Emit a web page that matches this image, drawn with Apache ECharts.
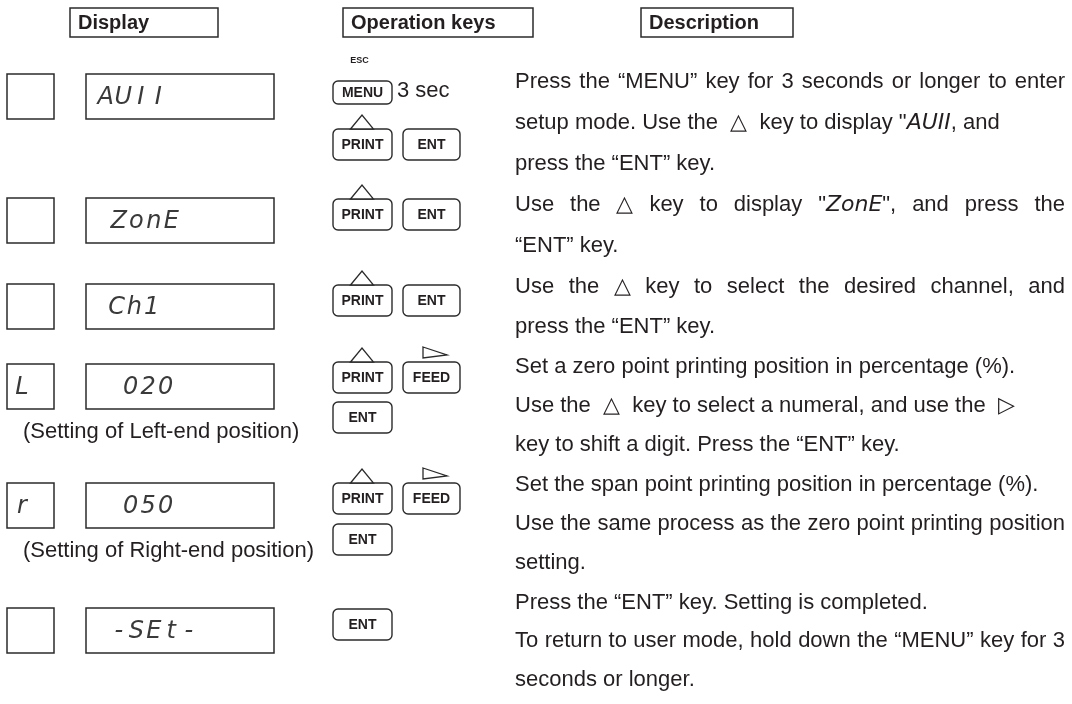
<!DOCTYPE html>
<html><head><meta charset="utf-8">
<script src="https://cdn.jsdelivr.net/npm/echarts@6/dist/echarts.min.js"></script>
<style>html,body{margin:0;padding:0;background:#fff}#main{width:1072px;height:704px}</style>
</head><body><div id="main"></div>
<script>
// ---------- content ----------
const headers = ['Display', 'Operation keys', 'Description'];
const subDisplays = ['', '', '', 'L', 'r', ''];
const mainDisplays = ['AUII', 'ZonE', 'Ch1', '020', '050', '-SEt-'];
const captions = ['', '', '', '(Setting of Left-end position)', '(Setting of Right-end position)', ''];
const keyRows = [
  [['MENU'], ['PRINT', 'ENT']],
  [['PRINT', 'ENT']],
  [['PRINT', 'ENT']],
  [['PRINT', 'FEED'], ['ENT']],
  [['PRINT', 'FEED'], ['ENT']],
  [['ENT']]
];
const holdLabels = ['3 sec', '', '', '', '', ''];
const escLabel = 'ESC';
const descLines = [
  'Press the “MENU” key for 3 seconds or longer to enter',
  'setup mode. Use the  △  key to display "{seg|AUII}, and',
  'press the “ENT” key.',
  'Use the △ key to display "{seg|ZonE}", and press the',
  '“ENT” key.',
  'Use the △ key to select the desired channel, and',
  'press the “ENT” key.',
  'Set a zero point printing position in percentage (%).',
  'Use the  △  key to select a numeral, and use the  ▷',
  'key to shift a digit. Press the “ENT” key.',
  'Set the span point printing position in percentage (%).',
  'Use the same process as the zero point printing position',
  'setting.',
  'Press the “ENT” key. Setting is completed.',
  'To return to user mode, hold down the “MENU” key for 3',
  'seconds or longer.'
];
const justified = [true, false, false, true, false, true, false, false, false, false, false, true, false, false, true, false];

// ---------- layout ----------
const INK = '#231f20';
const FONT = '"Liberation Sans", Arial, sans-serif';
const SEGFONT = '"DejaVu Sans", sans-serif';
const headerBoxes = [{ x: 70, w: 148 }, { x: 343, w: 190 }, { x: 641, w: 152 }];
const headerY = 8, headerH = 29;
const rowTops = [74, 198, 284, 364, 483, 608];
const boxH = 45;
const smallBox = { x: 7, w: 47, cx: 22 };
const bigBox = { x: 86, w: 188 };
const segStart = [97, 110, 108, 122, 122, 110];
const segPitch = 17.5;
const keyLineTops = [[81, 129], [199], [285], [362, 402], [483, 524], [609]];
const keyCols = [{ x: 333, w: 59 }, { x: 403, w: 57 }];
const descX0 = 515, descX1 = 1065;
const descY = [82, 123, 164, 205, 246, 287, 327, 367, 406, 445, 485, 524, 563, 603, 641, 680];

const els = [];
function rect(x, y, w, h, r, lw) {
  els.push({ type: 'rect', shape: { x: x, y: y, width: w, height: h, r: r || 0 },
    style: { fill: '#fff', stroke: '#2b2b2b', lineWidth: lw || 1.5 } });
}
function text(x, y, t, opt) {
  opt = opt || {};
  els.push({ type: 'text', x: x, y: y, z: 10, style: Object.assign({
    text: t, fill: INK, fontSize: 22, fontFamily: FONT,
    textAlign: 'left', textVerticalAlign: 'middle'
  }, opt) });
}

// headers
headers.forEach((h, i) => {
  const b = headerBoxes[i];
  rect(b.x, headerY, b.w, headerH, 0, 1.5);
  text(b.x + 8, headerY + headerH / 2 + 1, h, { fontSize: 20, fontWeight: 'bold' });
});

// display rows (segment-style readouts as thin italic text)
const segStyle = { fontSize: 24, fontFamily: SEGFONT, fontStyle: 'italic', fill: '#3a3a3a', textAlign: 'center' };
mainDisplays.forEach((d, i) => {
  const top = rowTops[i];
  rect(smallBox.x, top, smallBox.w, boxH, 0, 1.5);
  rect(bigBox.x, top, bigBox.w, boxH, 0, 1.5);
  const cy = top + boxH / 2 + 1;
  d.split('').forEach((ch, k) => {
    if (ch !== ' ') text(segStart[i] + segPitch * k + segPitch / 2, cy, ch, segStyle);
  });
  if (subDisplays[i]) text(smallBox.cx, cy, subDisplays[i], segStyle);
  if (captions[i]) text(23, top + boxH + 23, captions[i], { fontSize: 22 });
});

// keys
function key(x, y, w, h, label, fs) {
  rect(x, y, w, h, 5, 1.4);
  text(x + w / 2, y + h / 2 + 1, label, { fontSize: fs, fontWeight: 'bold', textAlign: 'center' });
}
keyRows.forEach((lines, i) => {
  lines.forEach((keys, j) => {
    const top = keyLineTops[i][j];
    keys.forEach((k, c) => {
      const col = keyCols[c];
      const h = k === 'MENU' ? 23 : 31;
      key(col.x, top, col.w, h, k, 14);
      if (k === 'MENU') {
        text(col.x + col.w / 2 - 3, top - 20, escLabel, { fontSize: 9, fontWeight: 'bold', textAlign: 'center' });
        if (holdLabels[i]) text(col.x + col.w + 5, top + h / 2 - 2, holdLabels[i], { fontSize: 22 });
      }
      if (k === 'PRINT') {
        const cx = col.x + 29;
        els.push({ type: 'polygon', z: 5, shape: { points: [[cx - 11.5, top], [cx, top - 14], [cx + 11.5, top]] },
          style: { fill: '#fff', stroke: '#2b2b2b', lineWidth: 1.3 } });
      }
      if (k === 'FEED') {
        const lx = col.x + 20;
        els.push({ type: 'polygon', z: 5, shape: { points: [[lx, top - 15], [lx + 24, top - 7], [lx, top - 4]] },
          style: { fill: '#fff', stroke: '#2b2b2b', lineWidth: 1.3 } });
      }
    });
  });
});

// description (word-by-word, justified where the reference is)
const cv = document.createElement('canvas').getContext('2d');
const normFont = '22px ' + FONT;
const segFont = 'italic 22px ' + SEGFONT;
function measure(word) {
  let w = 0, last = 0; const re = /\{seg\|([^}]*)\}/g; let m;
  while ((m = re.exec(word))) {
    cv.font = normFont; w += cv.measureText(word.slice(last, m.index)).width;
    cv.font = segFont; w += cv.measureText(m[1]).width;
    last = re.lastIndex;
  }
  cv.font = normFont; w += cv.measureText(word.slice(last)).width;
  return w;
}
cv.font = normFont;
const spaceW = cv.measureText(' ').width;
const richSeg = { seg: { fontFamily: SEGFONT, fontStyle: 'italic', fontSize: 22, color: '#3a3a3a' } };
descLines.forEach((line, i) => {
  const words = line.split(' ');
  const widths = words.map(measure);
  const total = widths.reduce((a, b) => a + b, 0);
  const gaps = words.length - 1;
  let gap = spaceW;
  if (justified[i] && gaps > 0) gap = (descX1 - descX0 - total) / gaps;
  let x = descX0;
  words.forEach((w, k) => {
    if (w) text(x, descY[i], w, { fontSize: 22, rich: richSeg });
    x += widths[k] + gap;
  });
});

const chart = echarts.init(document.getElementById('main'), null, { renderer: 'canvas' });
chart.setOption({ backgroundColor: '#fff', animation: false, graphic: { elements: els } });
</script></body></html>
